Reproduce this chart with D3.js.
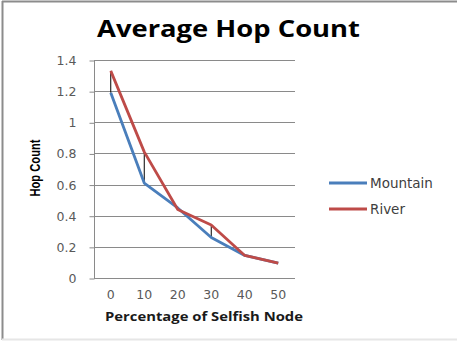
<!DOCTYPE html>
<html><head><meta charset="utf-8">
<script src="https://cdn.jsdelivr.net/npm/d3@7"></script>
<style>html,body{margin:0;padding:0;background:#fff;}svg{display:block;}</style>
</head><body>
<script>
const categories = [0, 10, 20, 30, 40, 50];
const mountain = [1.19, 0.61, 0.45, 0.26, 0.145, 0.095];
const river = [1.33, 0.81, 0.44, 0.34, 0.145, 0.095];
const yTicks = [0, 0.2, 0.4, 0.6, 0.8, 1, 1.2, 1.4];
const seriesNames = ["Mountain", "River"];
const colors = ["#4a7ebb", "#be4b48"];

(function () {
const W = 457, H = 342;
const svg = d3.select("body").append("svg").attr("width", W).attr("height", H);
svg.append("rect").attr("width", W).attr("height", H).attr("fill", "#fff");
// frame
svg.append("line").attr("x1", 2).attr("x2", W).attr("y1", 1.5).attr("y2", 1.5).attr("stroke", "#8c8c8c").attr("stroke-width", 2);
svg.append("line").attr("x1", 2.5).attr("x2", 2.5).attr("y1", 1).attr("y2", 340).attr("stroke", "#8c8c8c").attr("stroke-width", 2);
svg.append("line").attr("x1", 2).attr("x2", W).attr("y1", 339.5).attr("y2", 339.5).attr("stroke", "#e6e6e6").attr("stroke-width", 2);

const pL = 94, pR = 295, pT = 60, pB = 278;
const x = d3.scaleBand().domain(categories).range([pL, pR]);
const y = d3.scaleLinear().domain([0, 1.4]).range([pB, pT]);

// gridlines
svg.append("g").selectAll("line").data(yTicks.filter(d => d > 0)).join("line")
  .attr("x1", pL).attr("x2", pR)
  .attr("y1", d => Math.round(y(d)) + 0.5).attr("y2", d => Math.round(y(d)) + 0.5)
  .attr("stroke", "#8a8a8a").attr("stroke-width", 1);

// y axis
const yAxis = d3.axisLeft(y).tickValues(yTicks).tickSize(5).tickPadding(13).tickFormat(d => String(d));
const gy = svg.append("g").attr("transform", `translate(${pL + 0.5},0.5)`).call(yAxis);
gy.select(".domain").attr("stroke", "#8a8a8a").attr("d", `M0,${pT - 0.5}V${pB}`);
gy.selectAll(".tick line").attr("stroke", "#8a8a8a");
gy.selectAll(".tick text").attr("fill", "#595959").style("font-family", "'DejaVu Sans', sans-serif").style("font-size", "12.5px");

// x axis
const xAxis = d3.axisBottom(x).tickSize(0).tickPadding(12);
const gx = svg.append("g").attr("transform", `translate(0,${pB + 0.5})`).call(xAxis);
gx.select(".domain").attr("stroke", "#8a8a8a").attr("d", `M${pL},0H${pR}`);
gx.selectAll(".tick text").attr("fill", "#595959").style("font-family", "'DejaVu Sans', sans-serif").style("font-size", "12.5px");

// high-low lines
svg.append("g").selectAll("line").data(categories).join("line")
  .attr("x1", d => x(d) + x.bandwidth() / 2).attr("x2", d => x(d) + x.bandwidth() / 2)
  .attr("y1", (d, i) => y(Math.max(mountain[i], river[i])))
  .attr("y2", (d, i) => y(Math.min(mountain[i], river[i])))
  .attr("stroke", "#000").attr("stroke-width", 1);

const line = d3.line().x((d, i) => x(categories[i]) + x.bandwidth() / 2).y(d => y(d));
[mountain, river].forEach((s, k) => {
  svg.append("path").datum(s).attr("d", line).attr("fill", "none")
    .attr("stroke", colors[k]).attr("stroke-width", 2.8).attr("stroke-linejoin", "round");
});

// title
svg.append("text").attr("x", 97).attr("y", 37)
  .attr("textLength", 263).attr("lengthAdjust", "spacingAndGlyphs")
  .style("font-family", "'Open Sans', sans-serif").style("font-weight", "bold").style("font-size", "23px")
  .attr("fill", "#000").text("Average Hop Count");

// y title
svg.append("text").attr("transform", "translate(40,168) rotate(-90)").attr("text-anchor", "middle")
  .attr("textLength", 57).attr("lengthAdjust", "spacingAndGlyphs")
  .style("font-family", "'Liberation Sans Narrow', 'Liberation Sans', sans-serif").style("font-weight", "bold").style("font-size", "14.5px")
  .attr("fill", "#000").text("Hop Count");

// x title
svg.append("text").attr("x", 105).attr("y", 321)
  .attr("textLength", 198).attr("lengthAdjust", "spacingAndGlyphs")
  .style("font-family", "'Open Sans', sans-serif").style("font-weight", "bold").style("font-size", "13px")
  .attr("fill", "#1a1a1a").text("Percentage of Selfish Node");

// legend
const lg = svg.append("g").selectAll("g").data(seriesNames).join("g")
  .attr("transform", (d, i) => `translate(329,${183 + i * 26})`);
lg.append("line").attr("x1", 0).attr("x2", 38).attr("y1", 0).attr("y2", 0)
  .attr("stroke", (d, i) => colors[i]).attr("stroke-width", 2.8);
lg.append("text").attr("x", 41).attr("y", 5).text(d => d)
  .style("font-family", "'DejaVu Sans', sans-serif").style("font-size", "13.5px").attr("fill", "#404040");
})();
</script>
</body></html>
